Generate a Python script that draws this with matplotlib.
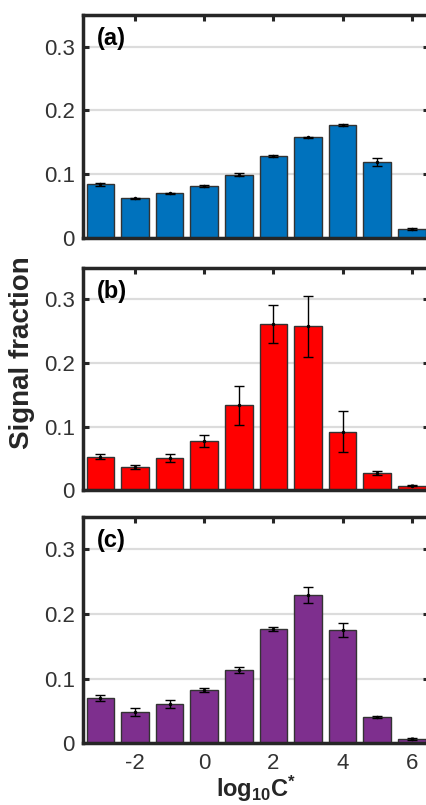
import matplotlib
matplotlib.use("Agg")
import matplotlib.pyplot as plt
import numpy as np

plt.rcParams['font.family'] = ['Liberation Sans', 'DejaVu Sans']
plt.rcParams['mathtext.fontset'] = 'custom'
plt.rcParams['mathtext.rm'] = 'Liberation Sans:bold'
plt.rcParams['mathtext.bf'] = 'Liberation Sans:bold'
plt.rcParams['mathtext.it'] = 'Liberation Sans:bold'
plt.rcParams['mathtext.default'] = 'bf'

log_c = [-3, -2, -1, 0, 1, 2, 3, 4, 5, 6]

frac_a = [0.084, 0.062, 0.070, 0.081, 0.099, 0.128, 0.158, 0.177, 0.119, 0.014]
err_a = [0.0026, 0.001, 0.001, 0.002, 0.0026, 0.0015, 0.001, 0.0015, 0.006, 0.0015]

frac_b = [0.053, 0.037, 0.051, 0.078, 0.134, 0.261, 0.258, 0.092, 0.027, 0.007]
err_b = [0.0036, 0.0034, 0.0065, 0.0096, 0.0306, 0.0296, 0.0478, 0.0325, 0.003, 0.001]

frac_c = [0.070, 0.048, 0.061, 0.082, 0.113, 0.177, 0.229, 0.175, 0.041, 0.007]
err_c = [0.0044, 0.0062, 0.0062, 0.0033, 0.0044, 0.003, 0.013, 0.011, 0.0015, 0.0015]

panel_labels = ['(a)', '(b)', '(c)']
colors = ['#0072BD', '#FF0000', '#7E2F8E']
yticks = [0, 0.1, 0.2, 0.3]
ytick_labels = ['0', '0.1', '0.2', '0.3']
xticks = [-2, 0, 2, 4, 6]
xtick_labels = ['-2', '0', '2', '4', '6']

W, H = 427, 805
fig = plt.figure(figsize=(W / 100, H / 100), dpi=100)

left_px, right_px = 83.1, 429.1
rects = [(15.0, 237.7), (267.7, 490.3), (516.7, 743.3)]
dark = '#262626'

for i, (vals, errs) in enumerate([(frac_a, err_a), (frac_b, err_b), (frac_c, err_c)]):
    top, bot = rects[i]
    ax = fig.add_axes([left_px / W, 1 - bot / H, (right_px - left_px) / W, (bot - top) / H])
    ax.set_axisbelow(True)
    ax.yaxis.grid(True, color='#dcdcdc', linewidth=1.6)
    ax.bar(log_c, vals, width=0.8, color=colors[i], edgecolor='#333333', linewidth=1.0, zorder=2)
    ax.errorbar(log_c, vals, yerr=errs, fmt='.', color='black', ecolor='black',
                elinewidth=1.0, capsize=3.3, capthick=1.0, markersize=3, zorder=3)
    ax.set_xlim(-3.5, 6.5)
    ax.set_ylim(0, 0.35)
    ax.set_yticks(yticks)
    ax.set_yticklabels(ytick_labels)
    ax.set_xticks(xticks)
    if i == 2:
        ax.set_xticklabels(xtick_labels)
        ax.set_xlabel(r'log$_{10}$C$^{*}$', fontsize=17, fontweight='bold', color=dark, labelpad=0)
    else:
        ax.set_xticklabels([])
    ax.tick_params(axis='y', pad=6)
    ax.tick_params(axis='x', pad=7)
    ax.tick_params(axis='both', direction='in', length=4, width=2.2, color=dark,
                   labelsize=16, labelcolor='#333333', top=True, right=True)
    for s in ax.spines.values():
        s.set_linewidth(2.5)
        s.set_color(dark)
    ax.text(0.04, 0.895, panel_labels[i], transform=ax.transAxes, fontsize=17,
            fontweight='bold', color='black', ha='left', va='center')

fig.text(22 / W, 1 - 353 / H, 'Signal fraction', rotation=90, fontsize=20,
         fontweight='bold', color=dark, ha='center', va='center')

fig.savefig('out.png', dpi=100)
